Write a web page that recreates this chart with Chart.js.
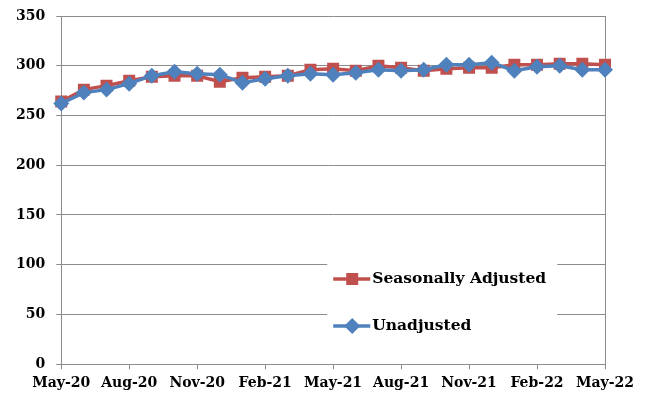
<!DOCTYPE html>
<html>
<head>
<meta charset="utf-8">
<script src="https://cdn.jsdelivr.net/npm/chart.js@4.4.0/dist/chart.umd.min.js"></script>
<style>
  html, body { margin: 0; padding: 0; background: #fff; }
  #wrap { width: 645px; height: 400px; }
</style>
</head>
<body>
<div id="wrap"><canvas id="myChart" width="645" height="400"></canvas></div>
<script>
const months = [
  "May-20", "Jun-20", "Jul-20", "Aug-20", "Sep-20", "Oct-20", "Nov-20",
  "Dec-20", "Jan-21", "Feb-21", "Mar-21", "Apr-21", "May-21", "Jun-21",
  "Jul-21", "Aug-21", "Sep-21", "Oct-21", "Nov-21", "Dec-21", "Jan-22",
  "Feb-22", "Mar-22", "Apr-22", "May-22",
];
const seasonallyAdjusted = [
  264, 276, 280, 285, 289, 290, 290, 284, 288, 289, 290, 296, 297, 295,
  300, 298, 295, 297, 298, 298, 301, 301, 302, 302, 301,
];
const unadjusted = [
  262, 273, 276, 282, 290, 294, 292, 291, 283, 287, 290, 292, 291, 293,
  296, 295, 296, 301, 301, 303, 295, 299, 300, 296, 296,
];
const yTicks = [0, 50, 100, 150, 200, 250, 300, 350];

const RED = "#C0504D";
const BLUE = "#4F81BD";
const GRID = "#8c8c8c";
const FONT = { family: "'DejaVu Serif', serif", size: 14, weight: "bold" };

// legend sits inside the plot, lower right, on a white box
const insideLegend = {
  id: "insideLegend",
  afterDatasetsDraw(chart) {
    const { ctx, chartArea } = chart;
    const left = chartArea.left + 266;
    const top = chartArea.top + 236;
    ctx.save();
    ctx.fillStyle = "#fff";
    ctx.fillRect(left, top, 230, 92);
    chart.data.datasets.forEach((ds, i) => {
      const y = top + 27 + i * 47;
      const x0 = left + 6;
      ctx.strokeStyle = ds.borderColor;
      ctx.lineWidth = 3.5;
      ctx.beginPath();
      ctx.moveTo(x0, y);
      ctx.lineTo(x0 + 37, y);
      ctx.stroke();
      Chart.helpers.drawPoint(ctx, {
        pointStyle: ds.pointStyle,
        radius: ds.pointRadius,
        borderWidth: 1,
      }, x0 + 19, y);
      ctx.fillStyle = ds.borderColor;
      ctx.fill();
      ctx.fillStyle = "#000";
      ctx.font = "bold 15.5px 'DejaVu Serif', serif";
      ctx.textBaseline = "middle";
      ctx.fillText(ds.label, x0 + 39, y);
    });
    ctx.restore();
  },
};

// right edge of the plot box
const rightEdge = {
  id: "rightEdge",
  beforeDatasetsDraw(chart) {
    const { ctx, chartArea } = chart;
    ctx.save();
    ctx.strokeStyle = GRID;
    ctx.lineWidth = 1;
    ctx.beginPath();
    ctx.moveTo(chartArea.right + 0.5, chartArea.top);
    ctx.lineTo(chartArea.right + 0.5, chartArea.bottom);
    ctx.stroke();
    ctx.restore();
  },
};

const data = {
  labels: months,
  datasets: [
    {
      label: "Seasonally Adjusted",
      data: seasonallyAdjusted,
      borderColor: RED,
      backgroundColor: RED,
      pointBackgroundColor: RED,
      pointBorderColor: RED,
      pointStyle: "rect",
      pointRadius: 6,
      borderWidth: 3.5,
      tension: 0,
      order: 1,
    },
    {
      label: "Unadjusted",
      data: unadjusted,
      borderColor: BLUE,
      backgroundColor: BLUE,
      pointBackgroundColor: BLUE,
      pointBorderColor: BLUE,
      pointStyle: "rectRot",
      pointRadius: 5.5,
      borderWidth: 3.5,
      tension: 0,
      order: 0,
    },
  ],
};

const config = {
  type: "line",
  data: data,
  options: {
    responsive: false,
    animation: false,
    layout: {
      padding: { left: 5, right: 40, top: 16, bottom: 2 },
    },
    plugins: {
      legend: { display: false },
      tooltip: { enabled: false },
    },
    scales: {
      x: {
        offset: false,
        afterFit: (axis) => {
          axis.paddingLeft = 0;
          axis.paddingRight = 0;
        },
        grid: {
          drawOnChartArea: false,
          tickLength: 5,
          tickColor: (c) => (c.index % 3 === 0 ? GRID : "rgba(0,0,0,0)"),
        },
        border: { color: GRID, width: 1 },
        ticks: {
          autoSkip: false,
          maxRotation: 0,
          padding: 6,
          color: "#000",
          font: FONT,
          callback: (v, i) => (i % 3 === 0 ? months[i] : ""),
        },
      },
      y: {
        min: yTicks[0],
        max: yTicks[yTicks.length - 1],
        afterBuildTicks: (axis) => {
          axis.ticks = yTicks.map((v) => ({ value: v }));
        },
        afterFit: (axis) => {
          axis.paddingTop = 0;
          axis.paddingBottom = 0;
        },
        grid: { color: GRID, tickLength: 5 },
        border: { color: GRID, width: 1 },
        ticks: { padding: 11, color: "#000", font: FONT },
      },
    },
  },
  plugins: [rightEdge, insideLegend],
};

const ctx = document.getElementById("myChart").getContext("2d");
const myChart = new Chart(ctx, config);
</script>
</body>
</html>
